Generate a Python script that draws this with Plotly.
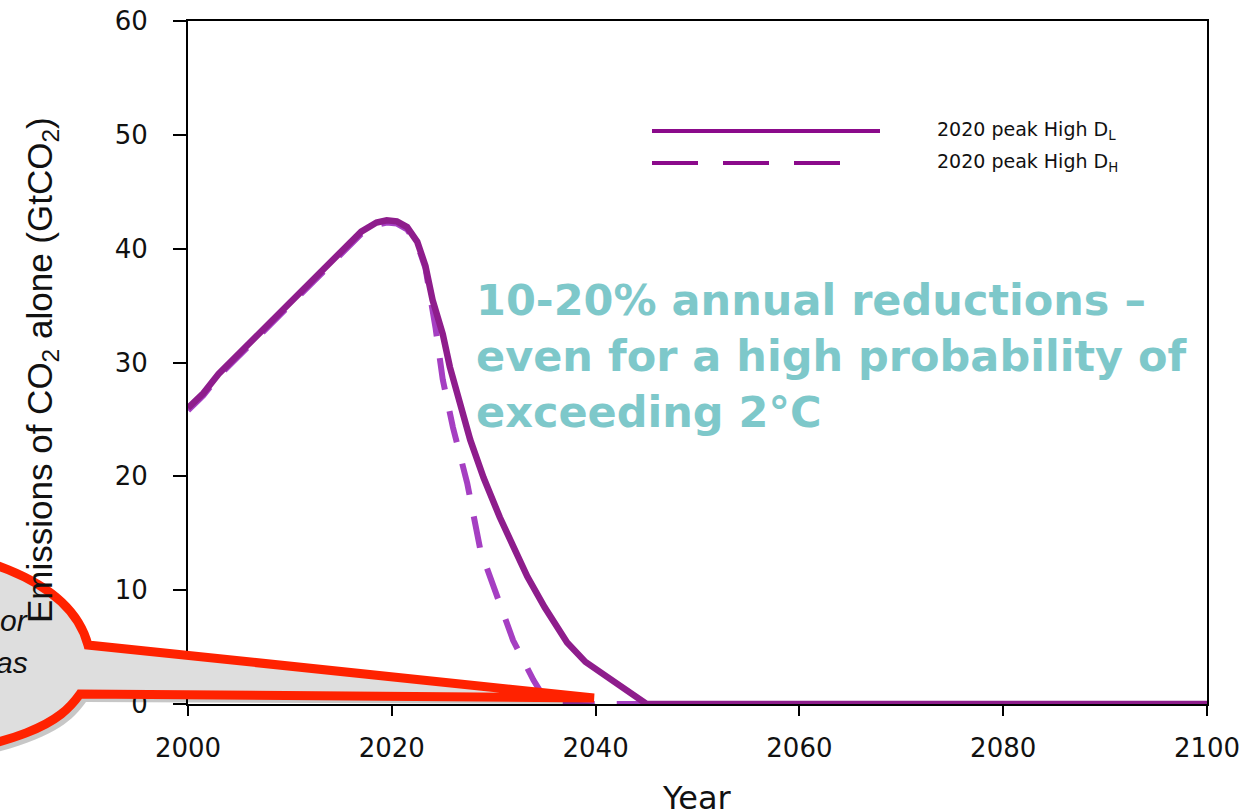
import plotly.graph_objects as go

# ---------------- data ----------------
years_DL = [2000, 2001.5, 2003, 2006, 2009, 2012, 2015, 2017, 2018.5, 2019.5, 2020.5, 2021.5,
            2022.5, 2023.3, 2024, 2025, 2025.7, 2026.7, 2027.7, 2029, 2030.6, 2033.3, 2035,
            2037.2, 2039, 2041.1, 2043, 2044.4, 2045, 2060, 2080, 2100]
emis_DL = [26.0, 27.3, 29.0, 31.7, 34.4, 37.1, 39.8, 41.5, 42.3, 42.5, 42.4, 41.9,
           40.6, 38.5, 35.5, 32.5, 29.6, 26.4, 23.2, 19.9, 16.4, 11.2, 8.5,
           5.4, 3.7, 2.4, 1.3, 0.5, 0.0, 0.0, 0.0, 0.0]

years_DH = [2000, 2001.5, 2003, 2006, 2009, 2012, 2015, 2017, 2018.5, 2019.5, 2020.5, 2021.5,
            2022.5, 2023.3, 2024.3, 2025.0, 2026.0, 2027.4, 2028.7, 2029.5, 2030.6, 2031.9,
            2033.9, 2035, 2036, 2060, 2080, 2100]
emis_DH = [25.8, 27.1, 28.8, 31.5, 34.2, 36.9, 39.6, 41.3, 42.1, 42.3, 42.2, 41.7,
           40.4, 38.3, 33.0, 28.5, 24.3, 19.4, 13.5, 11.5, 9.1, 5.6,
           2.1, 0.5, 0.0, 0.0, 0.0, 0.0]

x_ticks = [2000, 2020, 2040, 2060, 2080, 2100]
y_ticks = [0, 10, 20, 30, 40, 50, 60]
legend_names = ["2020 peak High D<sub>L</sub>", "2020 peak High D<sub>H</sub>"]

# ---------------- layout geometry ----------------
W, H = 1253, 810
L, R, T, B = 188, 1207, 21, 704


def px(x):
    return (x - L) / (R - L)


def py(y):
    return (B - y) / (B - T)


def path(points_cmds):
    out = []
    for cmd, pts in points_cmds:
        coords = " ".join(f"{px(x):.5f},{py(y):.5f}" for x, y in pts)
        out.append(f"{cmd}{coords}")
    return " ".join(out) + " Z"


fig = go.Figure()

fig.add_trace(go.Scatter(x=years_DH, y=emis_DH, mode="lines", name=legend_names[1],
                         line=dict(color="#A53FC2", width=6, dash="32px,22px"),
                         showlegend=False))
fig.add_trace(go.Scatter(x=years_DL, y=emis_DL, mode="lines", name=legend_names[0],
                         line=dict(color="#8E1D8C", width=6.5), showlegend=False))

shapes = []
# legend lines
shapes.append(dict(type="line", xref="paper", yref="paper", x0=px(652), x1=px(880),
                   y0=py(131), y1=py(131), line=dict(color="#8B0A8B", width=4)))
shapes.append(dict(type="line", xref="paper", yref="paper", x0=px(652), x1=px(862),
                   y0=py(163), y1=py(163), line=dict(color="#8B0A8B", width=4, dash="46px,25px")))

# callout bubble
bubble = [("M", [(-140, 542)]),
          ("C", [(-30, 547), (70, 577), (88, 645)]),
          ("L", [(594, 698)]),
          ("L", [(80, 694)]),
          ("C", [(60, 722), (30, 745), (-140, 768)])]
shadow = [("M", [(-140, 548)]),
          ("C", [(-26, 553), (76, 583), (94, 651)]),
          ("L", [(598, 704)]),
          ("L", [(86, 702)]),
          ("C", [(66, 730), (36, 753), (-140, 778)])]
shapes.append(dict(type="path", xref="paper", yref="paper", path=path(shadow),
                   fillcolor="rgba(0,0,0,0.22)", line=dict(width=0)))
shapes.append(dict(type="path", xref="paper", yref="paper", path=path(bubble),
                   fillcolor="#DEDEDE", line=dict(color="#FF2200", width=9)))

annotations = []
for name, yy in zip(legend_names, [131, 163]):
    annotations.append(dict(xref="paper", yref="paper", x=px(935), y=py(yy), text=name,
                            showarrow=False, xanchor="left", yanchor="middle",
                            font=dict(family="DejaVu Sans", size=19, color="#111111")))

annotations.append(dict(xref="paper", yref="paper", x=px(474), y=py(356),
                        text="10-20% annual reductions –<br>even for a high probability of<br>exceeding 2°C",
                        showarrow=False, xanchor="left", yanchor="middle", align="left",
                        font=dict(family="DejaVu Sans", size=43, color="#7EC8CA", weight="bold")))

annotations.append(dict(xref="paper", yref="paper", x=px(42), y=py(370),
                        text="Emissions of CO<sub>2</sub> alone (GtCO<sub>2</sub>)",
                        textangle=-90, showarrow=False, xanchor="center", yanchor="middle",
                        font=dict(family="Liberation Sans", size=35, color="#111111")))

annotations.append(dict(xref="paper", yref="paper", x=px(697), y=py(798), text="Year",
                        showarrow=False, xanchor="center", yanchor="middle",
                        font=dict(family="DejaVu Sans", size=32, color="#111111")))

for txt, yy in [("<i>or</i>", 620), ("<i>as</i>", 662)]:
    annotations.append(dict(xref="paper", yref="paper", x=px(30), y=py(yy), text=txt,
                            showarrow=False, xanchor="right", yanchor="middle",
                            font=dict(family="Liberation Sans", size=30, color="#111111")))

fig.update_layout(
    width=W, height=H,
    margin=dict(l=L, r=W - R, t=T, b=H - B, pad=0, autoexpand=False),
    paper_bgcolor="white", plot_bgcolor="white",
    shapes=shapes, annotations=annotations,
    showlegend=False,
    xaxis=dict(range=[2000, 2100], tickvals=x_ticks, ticks="outside", ticklen=10, tickwidth=2,
               tickcolor="black", showline=True, linecolor="black", linewidth=2, mirror=True,
               showgrid=False, zeroline=False, ticklabelstandoff=10, automargin=False,
               tickfont=dict(family="DejaVu Sans", size=26, color="#111111")),
    yaxis=dict(range=[0, 60], tickvals=y_ticks, ticks="outside", ticklen=13, tickwidth=2,
               tickcolor="black", showline=True, linecolor="black", linewidth=2, mirror=True,
               showgrid=False, zeroline=False, ticklabelstandoff=20, automargin=False,
               tickfont=dict(family="DejaVu Sans", size=26, color="#111111")),
)

fig.write_html("out.html", config={"displayModeBar": False},
               post_script="document.body.style.margin='0px';")
